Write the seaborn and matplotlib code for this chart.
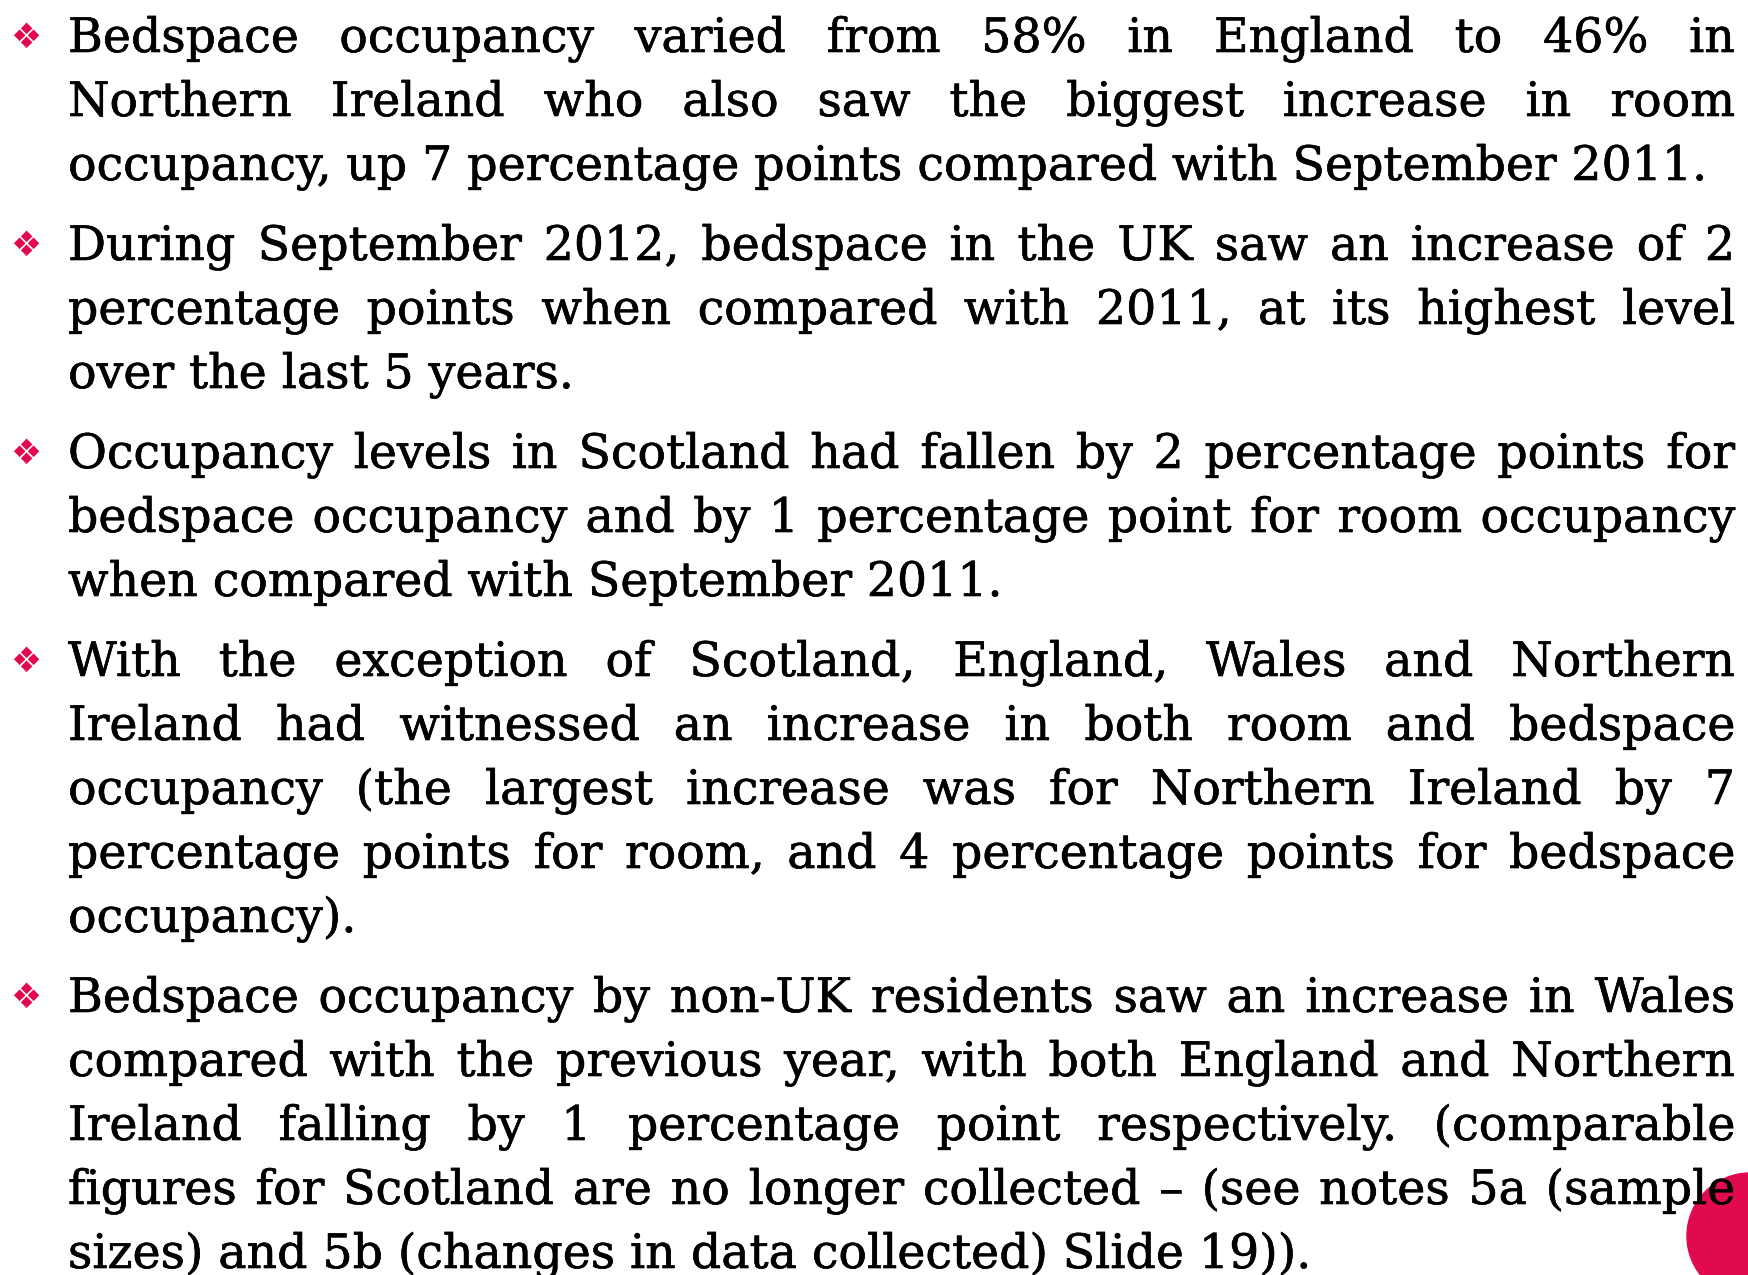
import matplotlib
matplotlib.use("Agg")
import matplotlib.pyplot as plt
import matplotlib.patheffects as pe
import seaborn as sns
import numpy as np

# slide text, one list per bullet, line breaks as on the slide
para1 = ["Bedspace occupancy varied from 58% in England to 46% in",
         "Northern Ireland who also saw the biggest increase in room",
         "occupancy, up 7 percentage points compared with September 2011."]
para2 = ["During September 2012, bedspace in the UK saw an increase of 2",
         "percentage points when compared with 2011, at its highest level",
         "over the last 5 years."]
para3 = ["Occupancy levels in Scotland had fallen by 2 percentage points for",
         "bedspace occupancy and by 1 percentage point for room occupancy",
         "when compared with September 2011."]
para4 = ["With the exception of Scotland, England, Wales and Northern",
         "Ireland had witnessed an increase in both room and bedspace",
         "occupancy (the largest increase was for Northern Ireland by 7",
         "percentage points for room, and 4 percentage points for bedspace",
         "occupancy)."]
para5 = ["Bedspace occupancy by non-UK residents saw an increase in Wales",
         "compared with the previous year, with both England and Northern",
         "Ireland falling by 1 percentage point respectively. (comparable",
         "figures for Scotland are no longer collected \u2013 (see notes 5a (sample",
         "sizes) and 5b (changes in data collected) Slide 19))."]
paragraphs = [para1, para2, para3, para4, para5]

# right end (px) of each paragraph's last line on the slide
last_line_ends = [1711, 581, 1007, 351, 1312]

PINK = "#E20A4E"
W, H = 1748, 1275
LEFT, RIGHT = 68, 1735
TOP_BASE, STEP, GAP = 52, 64, 16

sns.set_theme(style="white")
plt.rcParams['font.family'] = ['DejaVu Serif', 'DejaVu Sans']

fig = plt.figure(figsize=(W / 100, H / 100), dpi=100)
ax = fig.add_axes([0, 0, 1, 1])
ax.set_xlim(0, W)
ax.set_ylim(H, 0)
ax.axis("off")
r = fig.canvas.get_renderer()


def width(s, fs):
    t = ax.text(0, 0, s, fontsize=fs)
    w = t.get_window_extent(r).width
    t.remove()
    return w


# pick a font size so the unjustified last lines match the slide
fs = 37.5
ratios = []
for p, end in zip(paragraphs, last_line_ends):
    ratios.append((end - LEFT) / width(p[-1], fs))
fs = fs * float(np.median(ratios))
widest = max(width(l, fs) for p in paragraphs for l in p[:-1])
if widest > RIGHT - LEFT:
    fs = fs * (RIGHT - LEFT) / widest

space = width("x x", fs) - width("xx", fs)
heavier = [pe.withStroke(linewidth=0.45, foreground="black")]

# pink circle bottom right
ax.add_patch(plt.Circle((1750, 1236), 63, color=PINK, zorder=1, clip_on=False))

k = 0
for i, p in enumerate(paragraphs):
    for j, line in enumerate(p):
        y = TOP_BASE + k * STEP + i * GAP
        if j == 0:
            ax.text(26, y - 14, "\u2756", family="DejaVu Sans", fontsize=25,
                    color=PINK, ha="center", va="center", zorder=3)
        words = line.split(" ")
        ws = [width(w_, fs) for w_ in words]
        if j < len(p) - 1 and len(words) > 1:
            gap = (RIGHT - LEFT - sum(ws)) / (len(words) - 1)
        else:
            gap = space
        x = LEFT
        for w_, ww in zip(words, ws):
            ax.text(x, y, w_, fontsize=fs, color="black", ha="left",
                    va="baseline", zorder=3, path_effects=heavier)
            x += ww + gap
        k += 1

fig.savefig("out.png", dpi=100, facecolor="white")
